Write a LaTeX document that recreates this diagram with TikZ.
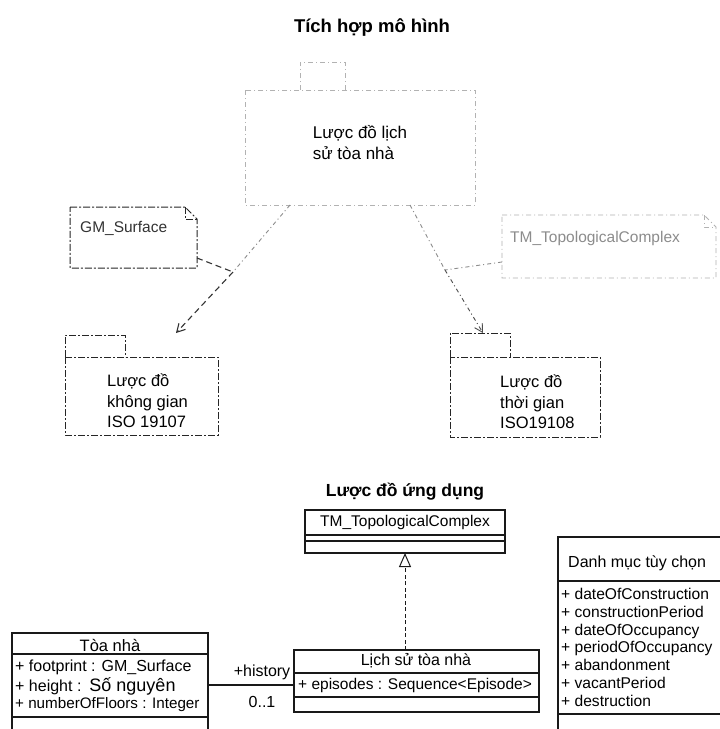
\documentclass[tikz,border=0pt]{standalone}
\usepackage{fontspec}
\setmainfont{Liberation Sans}
\usetikzlibrary{arrows.meta,calc}

\tikzset{
  faint/.style={draw=black!30, dash pattern=on 5pt off 3pt on 1pt off 3pt, line width=0.8pt},
  pkgline/.style={draw=black!85, dash pattern=on 7pt off 2pt on 2pt off 2pt, line width=1pt},
  depline/.style={draw=black!80, dash pattern=on 6pt off 4pt, line width=1.1pt},
  depfaint/.style={draw=black!45, dash pattern=on 4pt off 3pt on 1pt off 3pt, line width=0.9pt},
  umlline/.style={draw=black!90, line width=1.1pt},
  txt/.style={inner sep=0pt, font=\fontsize{16}{19}\selectfont},
  small/.style={inner sep=0pt, font=\fontsize{15.5}{17.5}\selectfont},
  headline/.style={inner sep=0pt, font=\bfseries\fontsize{18.5}{21}\selectfont},
}

\begin{document}
\begin{tikzpicture}[x=1pt,y=-1pt]
\useasboundingbox[fill=white] (0,0) rectangle (720,729);

% ---------------- model integration ----------------
\node[headline] (title1) at (372,28) {Tích hợp mô hình};

% building history package (faint outline)
\coordinate (hNW) at (245,90);
\coordinate (hSE) at (475,205);
\draw[faint] (hNW) rectangle (hSE);
\draw[faint] ($(hNW)+(55,0)$) |- ($(hNW)+(100,-28)$) -- ($(hNW)+(100,0)$);
\node[txt, align=left, font=\fontsize{17}{21}\selectfont] (hist) at (360,143) {Lược đồ lịch\\sử tòa nhà};
\coordinate (hbL) at (290,205);
\coordinate (hbR) at (410,205);

% note: GM_Surface
\coordinate (g1) at (70,207);
\coordinate (g2) at (197,268);
\draw[pkgline] (g1) -- (185,207) -- (197,219) -- (g2 |- 0,219) -- (g2) -- (g1 |- g2) -- cycle;
\draw[pkgline] (185,207) -- (185,219) -- (197,219);
\node[small, anchor=west, text=black!80] (gms) at (80,228) {GM\_Surface};
\coordinate (gmsE) at (197,258);

% note: TM_TopologicalComplex
\draw[faint] (502,215) -- (704,215) -- (716,227) -- (716,278) -- (502,278) -- cycle;
\draw[faint] (704,215) -- (704,227) -- (716,227);
\node[small, anchor=west, text=black!45] (tmn) at (510,238) {TM\_TopologicalComplex};
\coordinate (tmW) at (502,262);

% spatial schema package
\draw[pkgline] (65,357) |- (125,335) -- (125,357);
\draw[pkgline] (65,357) rectangle (218,435);
\node[txt, anchor=west, align=left, font=\fontsize{16.5}{20.5}\selectfont] (space) at (107,401)
  {Lược đồ\\không gian\\ISO 19107};

% temporal schema package
\draw[pkgline] (450,357) |- (510,333) -- (510,357);
\draw[pkgline] (450,357) rectangle (600,437);
\node[txt, anchor=west, align=left, font=\fontsize{16.5}{20.5}\selectfont] (time) at (500,402)
  {Lược đồ\\thời gian\\ISO19108};

% dependencies
\coordinate (jl) at (233,272);
\coordinate (jr) at (445,270);
\coordinate (al) at (176,333);
\coordinate (ar) at (483,333);
\draw[depfaint] (hbL) -- (jl);
\draw[depline] (gmsE) -- (jl);
\draw[depline, -{Straight Barb[length=8pt,width=9pt]}] (jl) -- (al);
\draw[depfaint] (hbR) -- (jr);
\draw[depfaint] (tmW) -- (jr);
\draw[depfaint, draw=black!70, -{Straight Barb[length=8pt,width=9pt]}] (jr) -- (ar);

% ---------------- application schema ----------------
\node[headline, font=\bfseries\fontsize{17.5}{21}\selectfont] (title2) at (405,492) {Lược đồ ứng dụng};

% TM_TopologicalComplex class
\draw[umlline] (305,510) rectangle (505,553);
\draw[umlline] (305,535) -- (505,535);
\draw[umlline] (305,541) -- (505,541);
\node[txt, font=\fontsize{15.5}{18}\selectfont] (tmc) at (405,522) {TM\_TopologicalComplex};
\coordinate (tmcS) at (405,553);

% building history class
\draw[umlline] (294,650) rectangle (539,712);
\draw[umlline] (294,673) -- (539,673);
\draw[umlline] (294,697) -- (539,697);
\node[txt] (lsn) at (416,661) {Lịch sử tòa nhà};
\node[small, anchor=west] (ep) at (298,685) {+ episodes : Sequence<Episode>};
\coordinate (lsnN) at (405,650);
\coordinate (lsnW) at (294,685);

% realization
\draw[umlline, line width=1pt, dash pattern=on 4pt off 2.5pt, -{Triangle[open,length=14pt,width=12pt]}] (lsnN) -- (tmcS);

% building class
\draw[umlline] (12,729) |- (208,633) -- (208,729);
\draw[umlline] (12,654) -- (208,654);
\draw[umlline] (12,717) -- (208,717);
\node[txt, font=\fontsize{16.5}{19}\selectfont] (bld) at (110,645) {Tòa nhà};
\node[txt, anchor=west] (a1) at (15,667) {+ footprint : GM\_Surface};
\node[txt, anchor=west] (a2) at (15,686) {+ height :\enspace{\fontsize{18}{19}\selectfont Số nguyên}};
\node[txt, anchor=west, font=\fontsize{15.2}{19}\selectfont] (a3) at (15,705) {+ numberOfFloors : Integer};
\coordinate (bldE) at (208,685);

% association
\draw[umlline] (bldE) -- (lsnW);
\node[txt] (role) at (262,672) {+history};
\node[txt] (mult) at (262,702) {0..1};

% optional attributes
\draw[umlline] (558,729) |- (722,537);
\draw[umlline] (558,581) -- (722,581);
\draw[umlline] (558,714) -- (722,714);
\node[txt, anchor=west] (opt) at (568,563) {Danh mục tùy chọn};
\node[small, anchor=north west, align=left, font=\fontsize{15.6}{17.8}\selectfont] (items) at (561,588)
  {+ dateOfConstruction\\+ constructionPeriod\\+ dateOfOccupancy\\+ periodOfOccupancy\\+ abandonment\\+ vacantPeriod\\+ destruction};
\end{tikzpicture}
\end{document}
